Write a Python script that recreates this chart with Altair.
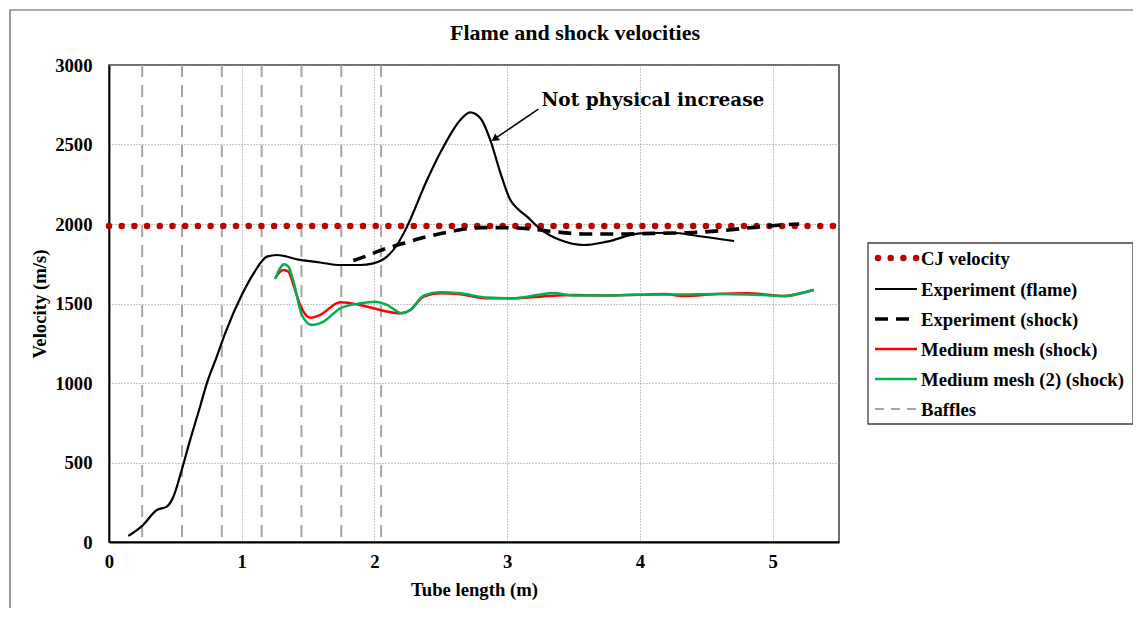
import altair as alt
import pandas as pd

# ---- data ----
flame_x = [0.146, 0.25, 0.36, 0.435, 0.485, 0.548, 0.611, 0.686, 0.737, 0.812, 0.875, 1.0, 1.09, 1.19, 1.265,
           1.44, 1.59, 1.742, 1.89, 1.99, 2.094, 2.17, 2.245, 2.396, 2.52, 2.647, 2.72, 2.80, 2.873, 2.95,
           3.024, 3.075, 3.15, 3.25, 3.40, 3.577, 3.753, 4.0, 4.23, 4.48, 4.71]
flame_v = [38, 101, 201, 222, 285, 453, 641, 851, 998, 1166, 1312, 1553, 1690, 1795, 1805,
           1774, 1758, 1742, 1742, 1752, 1795, 1868, 1983, 2277, 2486, 2654, 2702, 2664, 2528, 2319,
           2151, 2099, 2046, 1968, 1899, 1868, 1889, 1941, 1945, 1920, 1893]

shock_x = [1.84, 1.94, 2.02, 2.22, 2.396, 2.597, 2.80, 2.974, 3.2, 3.35, 3.6, 3.85, 4.1, 4.36, 4.61, 4.86, 5.06, 5.2]
shock_v = [1770, 1799, 1826, 1879, 1920, 1956, 1977, 1977, 1967, 1952, 1937, 1937, 1941, 1945, 1958, 1979, 1994, 2000]

red_x = [1.252, 1.315, 1.352, 1.39, 1.44, 1.516, 1.59, 1.742, 1.893, 2.044, 2.195, 2.27, 2.37, 2.496, 2.647,
         2.85, 3.05, 3.25, 3.50, 3.753, 4.0, 4.18, 4.33, 4.58, 4.81, 4.985, 5.085, 5.21, 5.31]
red_v = [1662, 1711, 1700, 1616, 1491, 1411, 1428, 1508, 1491, 1459, 1438, 1459, 1543, 1564, 1558,
         1533, 1533, 1543, 1553, 1551, 1555, 1560, 1547, 1560, 1564, 1553, 1547, 1564, 1585]

green_x = [1.252, 1.32, 1.352, 1.39, 1.453, 1.53, 1.616, 1.742, 1.893, 2.006, 2.094, 2.207, 2.27, 2.37, 2.496,
           2.647, 2.85, 3.05, 3.225, 3.35, 3.50, 3.753, 4.0, 4.33, 4.58, 4.81, 4.985, 5.1, 5.21, 5.31]
green_v = [1654, 1747, 1732, 1637, 1428, 1365, 1386, 1470, 1501, 1511, 1491, 1438, 1459, 1549, 1570,
           1564, 1537, 1533, 1553, 1566, 1551, 1551, 1555, 1557, 1560, 1557, 1551, 1547, 1564, 1585]

baffle_x = [0.25, 0.55, 0.85, 1.15, 1.45, 1.75, 2.05]
cj_x = [0.0, 5.5]
cj_v = [1987, 1987]

legend_labels = ["CJ velocity", "Experiment (flame)", "Experiment (shock)",
                 "Medium mesh (shock)", "Medium mesh (2) (shock)", "Baffles"]

title_text = ["Flame and shock velocities"]
annot_text = ["Not physical increase"]
annot_pos = [3.258, 2780]
arrow_x = [3.235, 2.905]
arrow_v = [2723, 2535]

W, H = 730, 477
SERIF = "Liberation Serif"
FS = 18.7

xs = alt.Scale(domain=[0, 5.5], nice=False)
ys = alt.Scale(domain=[0, 3000], nice=False)

X = alt.X("x:Q", scale=xs,
          axis=alt.Axis(values=[0, 1, 2, 3, 4, 5], title="Tube length (m)", labelPadding=10,
                        titlePadding=10, format="d", labelFlush=False))
Y = alt.Y("v:Q", scale=ys,
          axis=alt.Axis(values=[0, 500, 1000, 1500, 2000, 2500, 3000], title="Velocity (m/s)",
                        labelPadding=17, titlePadding=5, format="d", labelFlush=False))


def df(x, v):
    return pd.DataFrame({"x": x, "v": v})


baffle_df = pd.DataFrame({"x": baffle_x})
baffles = alt.Chart(baffle_df).mark_rule(color="#a6a6a6", strokeWidth=2, strokeDash=[12, 8]).encode(
    x=alt.X("x:Q", scale=xs), y=alt.value(0), y2=alt.value(H))

cj = alt.Chart(df(cj_x, cj_v)).mark_line(color="#c00000", strokeWidth=6.5, strokeDash=[0, 12.7],
                                         strokeCap="round").encode(x=X, y=Y)

flame = alt.Chart(df(flame_x, flame_v)).mark_line(color="black", strokeWidth=2.2,
                                                  interpolate="monotone").encode(x=X, y=Y)
shock = alt.Chart(df(shock_x, shock_v)).mark_line(color="black", strokeWidth=3.6, strokeDash=[13, 8],
                                                  interpolate="monotone").encode(x=X, y=Y)
red = alt.Chart(df(red_x, red_v)).mark_line(color="#ff0000", strokeWidth=2.5,
                                            interpolate="monotone").encode(x=X, y=Y)
green = alt.Chart(df(green_x, green_v)).mark_line(color="#00b050", strokeWidth=2.5,
                                                  interpolate="monotone").encode(x=X, y=Y)

arrow_line = alt.Chart(df(arrow_x, arrow_v)).mark_line(color="black", strokeWidth=1.5).encode(x=X, y=Y)
arrow_head = alt.Chart(df([arrow_x[1]], [arrow_v[1]])).mark_point(
    shape="triangle-up", filled=True, color="black", size=70, angle=235, opacity=1).encode(x=X, y=Y)
annot = alt.Chart(pd.DataFrame({"x": [annot_pos[0]], "v": [annot_pos[1]], "t": annot_text})).mark_text(
    align="left", baseline="middle", font="DejaVu Serif", fontWeight="bold", fontSize=18.5, color="black"
).encode(x=X, y=Y, text="t:N")

one = alt.Data(values=[{}])

# outer chart border
border = alt.Chart(one).mark_rect(fill=None, stroke="#595959", strokeWidth=1.2).encode(
    x=alt.value(-99), x2=alt.value(1200), y=alt.value(-55), y2=alt.value(700))

title = alt.Chart(pd.DataFrame({"t": title_text})).mark_text(
    align="center", baseline="middle", font=SERIF, fontWeight="bold", fontSize=22, color="black"
).encode(x=alt.value(466), y=alt.value(-32), text="t:N")

# legend box
LX0, LX1, LY0, LY1 = 759, 1024, 178, 359
legend_box = alt.Chart(one).mark_rect(fill="white", stroke="#404040", strokeWidth=1.3).encode(
    x=alt.value(LX0), x2=alt.value(LX1), y=alt.value(LY0), y2=alt.value(LY1))

item_y = [193, 224, 254, 284, 314, 344]
sym_styles = [
    dict(color="#c00000", strokeWidth=6.5, strokeDash=[0, 12.7], strokeCap="round"),
    dict(color="black", strokeWidth=2.2),
    dict(color="black", strokeWidth=3.6, strokeDash=[13, 8]),
    dict(color="#ff0000", strokeWidth=2.5),
    dict(color="#00b050", strokeWidth=2.5),
    dict(color="#a6a6a6", strokeWidth=2, strokeDash=[9, 7]),
]
legend_layers = [legend_box]
for i, (lab, sty) in enumerate(zip(legend_labels, sym_styles)):
    x0 = 769 if i == 0 else 766
    legend_layers.append(alt.Chart(one).mark_rule(**sty).encode(
        x=alt.value(x0), x2=alt.value(808), y=alt.value(item_y[i])))
    legend_layers.append(alt.Chart(pd.DataFrame({"t": [lab]})).mark_text(
        align="left", baseline="middle", font=SERIF, fontWeight="bold", fontSize=FS, color="black"
    ).encode(x=alt.value(812), y=alt.value(item_y[i] + 1), text="t:N"))

chart = alt.layer(
    border, title, baffles, cj, flame, shock, red, green, arrow_line, arrow_head, annot, *legend_layers
).properties(
    width=W, height=H,
    autosize=alt.AutoSizeParams(type="none"),
    padding={"left": 101, "top": 57, "right": 294, "bottom": 66},
).configure_view(stroke="#404040", strokeWidth=1.5).configure_axis(
    labelFont=SERIF, labelFontWeight="bold", labelFontSize=FS, labelColor="black",
    titleFont=SERIF, titleFontWeight="bold", titleFontSize=FS, titleColor="black",
    gridColor="#8c8c8c", gridDash=[1, 2], gridWidth=1,
    domainColor="black", domainWidth=1.8, ticks=False,
)

chart.save("out.html", embed_options={"renderer": "svg", "actions": False})
